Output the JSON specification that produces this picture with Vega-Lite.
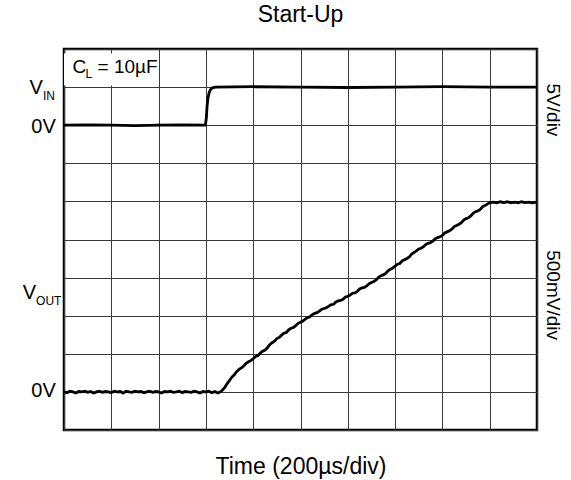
{
  "$schema": "https://vega.github.io/schema/vega-lite/v6.json",
  "width": 473,
  "height": 381,
  "autosize": {"type": "none"},
  "padding": {"left": 64, "top": 49, "right": 34, "bottom": 50},
  "background": "white",
  "title": {"text": "Start-Up", "font": "Liberation Sans", "fontSize": 23, "fontWeight": "normal", "color": "black", "anchor": "middle", "offset": 22},
  "config": {
    "view": {"stroke": "black", "strokeWidth": 2.5},
    "text": {"font": "Liberation Sans", "color": "black"}
  },
  "datasets": {
    "box": [{"t": 0, "t2": 370, "v": 9.04, "v2": 9.88}],
    "traces": [
      {"s": "VIN", "t": 0, "v": 8.0}, {"s": "VIN", "t": 100, "v": 8.01}, {"s": "VIN", "t": 200, "v": 8.0}, {"s": "VIN", "t": 300, "v": 7.99}, {"s": "VIN", "t": 400, "v": 8.0}, {"s": "VIN", "t": 500, "v": 8.01}, {"s": "VIN", "t": 598, "v": 8.0},
      {"s": "VIN", "t": 602, "v": 8.2}, {"s": "VIN", "t": 605, "v": 8.5}, {"s": "VIN", "t": 609, "v": 8.72}, {"s": "VIN", "t": 614, "v": 8.86}, {"s": "VIN", "t": 620, "v": 8.94}, {"s": "VIN", "t": 628, "v": 8.98}, {"s": "VIN", "t": 640, "v": 9.0},
      {"s": "VIN", "t": 800, "v": 9.01}, {"s": "VIN", "t": 1000, "v": 9.0}, {"s": "VIN", "t": 1200, "v": 8.99}, {"s": "VIN", "t": 1400, "v": 9.0}, {"s": "VIN", "t": 1600, "v": 9.01}, {"s": "VIN", "t": 1800, "v": 9.0}, {"s": "VIN", "t": 2000, "v": 9.0},

      {"s": "VOUT", "t": 0, "v": 1.0}, {"s": "VOUT", "t": 12, "v": 0.98}, {"s": "VOUT", "t": 25, "v": 1.02}, {"s": "VOUT", "t": 38, "v": 1.0}, {"s": "VOUT", "t": 50, "v": 0.97}, {"s": "VOUT", "t": 62, "v": 1.01}, {"s": "VOUT", "t": 75, "v": 1.0}, {"s": "VOUT", "t": 88, "v": 1.02}, {"s": "VOUT", "t": 100, "v": 0.99}, {"s": "VOUT", "t": 112, "v": 1.01}, {"s": "VOUT", "t": 125, "v": 0.97}, {"s": "VOUT", "t": 138, "v": 1.0}, {"s": "VOUT", "t": 150, "v": 1.02}, {"s": "VOUT", "t": 162, "v": 0.99}, {"s": "VOUT", "t": 175, "v": 1.01}, {"s": "VOUT", "t": 188, "v": 1.0}, {"s": "VOUT", "t": 200, "v": 0.98}, {"s": "VOUT", "t": 212, "v": 1.02}, {"s": "VOUT", "t": 225, "v": 1.0}, {"s": "VOUT", "t": 238, "v": 1.01}, {"s": "VOUT", "t": 250, "v": 0.97}, {"s": "VOUT", "t": 262, "v": 1.02}, {"s": "VOUT", "t": 275, "v": 1.0}, {"s": "VOUT", "t": 288, "v": 0.99}, {"s": "VOUT", "t": 300, "v": 1.02}, {"s": "VOUT", "t": 312, "v": 1.0}, {"s": "VOUT", "t": 325, "v": 1.01}, {"s": "VOUT", "t": 338, "v": 0.98}, {"s": "VOUT", "t": 350, "v": 1.0}, {"s": "VOUT", "t": 362, "v": 1.02}, {"s": "VOUT", "t": 375, "v": 0.99}, {"s": "VOUT", "t": 388, "v": 1.01}, {"s": "VOUT", "t": 400, "v": 1.0}, {"s": "VOUT", "t": 412, "v": 0.97}, {"s": "VOUT", "t": 425, "v": 1.01}, {"s": "VOUT", "t": 438, "v": 1.0}, {"s": "VOUT", "t": 450, "v": 1.02}, {"s": "VOUT", "t": 462, "v": 0.99}, {"s": "VOUT", "t": 475, "v": 1.0}, {"s": "VOUT", "t": 488, "v": 1.02}, {"s": "VOUT", "t": 500, "v": 0.98}, {"s": "VOUT", "t": 512, "v": 1.01}, {"s": "VOUT", "t": 525, "v": 1.0}, {"s": "VOUT", "t": 538, "v": 0.99}, {"s": "VOUT", "t": 550, "v": 1.02}, {"s": "VOUT", "t": 562, "v": 1.0}, {"s": "VOUT", "t": 575, "v": 0.97}, {"s": "VOUT", "t": 588, "v": 1.01}, {"s": "VOUT", "t": 600, "v": 1.0}, {"s": "VOUT", "t": 612, "v": 1.02}, {"s": "VOUT", "t": 625, "v": 0.98}, {"s": "VOUT", "t": 638, "v": 1.01}, {"s": "VOUT", "t": 650, "v": 0.97}, {"s": "VOUT", "t": 662, "v": 1.0},
      {"s": "VOUT", "t": 670, "v": 1.05}, {"s": "VOUT", "t": 680, "v": 1.12}, {"s": "VOUT", "t": 690, "v": 1.22}, {"s": "VOUT", "t": 700, "v": 1.3}, {"s": "VOUT", "t": 710, "v": 1.39}, {"s": "VOUT", "t": 720, "v": 1.45}, {"s": "VOUT", "t": 730, "v": 1.53}, {"s": "VOUT", "t": 740, "v": 1.59}, {"s": "VOUT", "t": 750, "v": 1.63}, {"s": "VOUT", "t": 760, "v": 1.68}, {"s": "VOUT", "t": 770, "v": 1.75}, {"s": "VOUT", "t": 780, "v": 1.79}, {"s": "VOUT", "t": 790, "v": 1.82}, {"s": "VOUT", "t": 800, "v": 1.87}, {"s": "VOUT", "t": 810, "v": 1.93}, {"s": "VOUT", "t": 820, "v": 1.95}, {"s": "VOUT", "t": 830, "v": 2.02}, {"s": "VOUT", "t": 840, "v": 2.07}, {"s": "VOUT", "t": 850, "v": 2.1}, {"s": "VOUT", "t": 860, "v": 2.16}, {"s": "VOUT", "t": 870, "v": 2.24}, {"s": "VOUT", "t": 880, "v": 2.29}, {"s": "VOUT", "t": 890, "v": 2.33}, {"s": "VOUT", "t": 900, "v": 2.4}, {"s": "VOUT", "t": 910, "v": 2.43}, {"s": "VOUT", "t": 920, "v": 2.49}, {"s": "VOUT", "t": 930, "v": 2.54}, {"s": "VOUT", "t": 940, "v": 2.56}, {"s": "VOUT", "t": 950, "v": 2.63}, {"s": "VOUT", "t": 960, "v": 2.67}, {"s": "VOUT", "t": 970, "v": 2.69}, {"s": "VOUT", "t": 980, "v": 2.74}, {"s": "VOUT", "t": 990, "v": 2.8}, {"s": "VOUT", "t": 1000, "v": 2.83}, {"s": "VOUT", "t": 1010, "v": 2.86}, {"s": "VOUT", "t": 1020, "v": 2.91}, {"s": "VOUT", "t": 1030, "v": 2.95}, {"s": "VOUT", "t": 1040, "v": 2.97}, {"s": "VOUT", "t": 1050, "v": 3.03}, {"s": "VOUT", "t": 1060, "v": 3.06}, {"s": "VOUT", "t": 1070, "v": 3.08}, {"s": "VOUT", "t": 1080, "v": 3.12}, {"s": "VOUT", "t": 1090, "v": 3.17}, {"s": "VOUT", "t": 1100, "v": 3.19}, {"s": "VOUT", "t": 1110, "v": 3.21}, {"s": "VOUT", "t": 1120, "v": 3.25}, {"s": "VOUT", "t": 1130, "v": 3.29}, {"s": "VOUT", "t": 1140, "v": 3.3}, {"s": "VOUT", "t": 1150, "v": 3.36}, {"s": "VOUT", "t": 1160, "v": 3.39}, {"s": "VOUT", "t": 1170, "v": 3.4}, {"s": "VOUT", "t": 1180, "v": 3.43}, {"s": "VOUT", "t": 1190, "v": 3.49}, {"s": "VOUT", "t": 1200, "v": 3.51}, {"s": "VOUT", "t": 1210, "v": 3.54}, {"s": "VOUT", "t": 1220, "v": 3.59}, {"s": "VOUT", "t": 1230, "v": 3.6}, {"s": "VOUT", "t": 1240, "v": 3.64}, {"s": "VOUT", "t": 1250, "v": 3.7}, {"s": "VOUT", "t": 1260, "v": 3.73}, {"s": "VOUT", "t": 1270, "v": 3.74}, {"s": "VOUT", "t": 1280, "v": 3.78}, {"s": "VOUT", "t": 1290, "v": 3.84}, {"s": "VOUT", "t": 1300, "v": 3.87}, {"s": "VOUT", "t": 1310, "v": 3.9}, {"s": "VOUT", "t": 1320, "v": 3.94}, {"s": "VOUT", "t": 1330, "v": 4.01}, {"s": "VOUT", "t": 1340, "v": 4.05}, {"s": "VOUT", "t": 1350, "v": 4.07}, {"s": "VOUT", "t": 1360, "v": 4.11}, {"s": "VOUT", "t": 1370, "v": 4.18}, {"s": "VOUT", "t": 1380, "v": 4.22}, {"s": "VOUT", "t": 1390, "v": 4.25}, {"s": "VOUT", "t": 1400, "v": 4.3}, {"s": "VOUT", "t": 1410, "v": 4.35}, {"s": "VOUT", "t": 1420, "v": 4.37}, {"s": "VOUT", "t": 1430, "v": 4.44}, {"s": "VOUT", "t": 1440, "v": 4.47}, {"s": "VOUT", "t": 1450, "v": 4.5}, {"s": "VOUT", "t": 1460, "v": 4.54}, {"s": "VOUT", "t": 1470, "v": 4.62}, {"s": "VOUT", "t": 1480, "v": 4.66}, {"s": "VOUT", "t": 1490, "v": 4.7}, {"s": "VOUT", "t": 1500, "v": 4.75}, {"s": "VOUT", "t": 1510, "v": 4.77}, {"s": "VOUT", "t": 1520, "v": 4.81}, {"s": "VOUT", "t": 1530, "v": 4.87}, {"s": "VOUT", "t": 1540, "v": 4.9}, {"s": "VOUT", "t": 1550, "v": 4.92}, {"s": "VOUT", "t": 1560, "v": 4.96}, {"s": "VOUT", "t": 1570, "v": 5.02}, {"s": "VOUT", "t": 1580, "v": 5.05}, {"s": "VOUT", "t": 1590, "v": 5.07}, {"s": "VOUT", "t": 1600, "v": 5.11}, {"s": "VOUT", "t": 1610, "v": 5.17}, {"s": "VOUT", "t": 1620, "v": 5.2}, {"s": "VOUT", "t": 1630, "v": 5.23}, {"s": "VOUT", "t": 1640, "v": 5.27}, {"s": "VOUT", "t": 1650, "v": 5.34}, {"s": "VOUT", "t": 1660, "v": 5.37}, {"s": "VOUT", "t": 1670, "v": 5.4}, {"s": "VOUT", "t": 1680, "v": 5.44}, {"s": "VOUT", "t": 1690, "v": 5.51}, {"s": "VOUT", "t": 1700, "v": 5.55}, {"s": "VOUT", "t": 1710, "v": 5.57}, {"s": "VOUT", "t": 1720, "v": 5.62}, {"s": "VOUT", "t": 1730, "v": 5.69}, {"s": "VOUT", "t": 1740, "v": 5.73}, {"s": "VOUT", "t": 1750, "v": 5.75}, {"s": "VOUT", "t": 1760, "v": 5.79}, {"s": "VOUT", "t": 1770, "v": 5.86}, {"s": "VOUT", "t": 1780, "v": 5.89}, {"s": "VOUT", "t": 1790, "v": 5.93}, {"s": "VOUT", "t": 1800, "v": 5.97},
      {"s": "VOUT", "t": 1815, "v": 5.98}, {"s": "VOUT", "t": 1830, "v": 5.96}, {"s": "VOUT", "t": 1845, "v": 5.99}, {"s": "VOUT", "t": 1860, "v": 5.97}, {"s": "VOUT", "t": 1875, "v": 5.99}, {"s": "VOUT", "t": 1890, "v": 5.96}, {"s": "VOUT", "t": 1905, "v": 5.98}, {"s": "VOUT", "t": 1920, "v": 5.96}, {"s": "VOUT", "t": 1935, "v": 5.99}, {"s": "VOUT", "t": 1950, "v": 5.97}, {"s": "VOUT", "t": 1965, "v": 5.98}, {"s": "VOUT", "t": 1980, "v": 5.96}, {"s": "VOUT", "t": 2000, "v": 5.98}
    ],
    "mainLabels": [
      {"txt": "V", "t": -89, "v": 8.82},
      {"txt": "V", "t": -118, "v": 3.44},
      {"txt": "0V", "t": -35, "v": 7.8},
      {"txt": "0V", "t": -35, "v": 0.87}
    ],
    "subLabels": [
      {"txt": "IN", "t": -89, "v": 8.82},
      {"txt": "OUT", "t": -118, "v": 3.44}
    ],
    "sideLabels": [
      {"txt": "5V/div", "t": 2068, "v": 8.4},
      {"txt": "500mV/div", "t": 2068, "v": 3.54}
    ],
    "clMain": [{"txt": "C", "t": 36, "v": 9.36}],
    "clSub": [{"txt": "L", "t": 36, "v": 9.36}],
    "clRest": [{"txt": "= 10µF", "t": 36, "v": 9.36}]
  },
  "encoding": {
    "x": {"field": "t", "type": "quantitative", "scale": {"domain": [0, 2000], "nice": false, "zero": false},
      "axis": {"values": [0, 200, 400, 600, 800, 1000, 1200, 1400, 1600, 1800, 2000], "grid": true, "gridColor": "#3a3a3a", "gridWidth": 1, "labels": false, "ticks": false, "domain": false,
        "title": "Time (200µs/div)", "titleFont": "Liberation Sans", "titleFontSize": 23, "titleFontWeight": "normal", "titleColor": "black", "titlePadding": 25}},
    "y": {"field": "v", "type": "quantitative", "scale": {"domain": [0, 10], "nice": false, "zero": false},
      "axis": {"values": [0, 1, 2, 3, 4, 5, 6, 7, 8, 9, 10], "grid": true, "gridColor": "#3a3a3a", "gridWidth": 1, "labels": false, "ticks": false, "domain": false, "title": null}}
  },
  "layer": [
    {
      "data": {"name": "box"},
      "mark": {"type": "rect", "fill": "white"},
      "encoding": {"x2": {"field": "t2"}, "y2": {"field": "v2"}}
    },
    {
      "data": {"name": "traces"},
      "mark": {"type": "line", "color": "black", "strokeWidth": 2.8, "clip": true},
      "encoding": {"detail": {"field": "s"}}
    },
    {
      "data": {"name": "mainLabels"},
      "mark": {"type": "text", "fontSize": 20, "align": "right", "baseline": "alphabetic"},
      "encoding": {"text": {"field": "txt"}}
    },
    {
      "data": {"name": "subLabels"},
      "mark": {"type": "text", "fontSize": 12, "align": "left", "baseline": "alphabetic", "dy": 6},
      "encoding": {"text": {"field": "txt"}}
    },
    {
      "data": {"name": "sideLabels"},
      "mark": {"type": "text", "fontSize": 19, "align": "center", "baseline": "middle", "angle": 90},
      "encoding": {"text": {"field": "txt"}}
    },
    {
      "data": {"name": "clMain"},
      "mark": {"type": "text", "fontSize": 19, "align": "left", "baseline": "alphabetic"},
      "encoding": {"text": {"field": "txt"}}
    },
    {
      "data": {"name": "clSub"},
      "mark": {"type": "text", "fontSize": 12, "align": "left", "baseline": "alphabetic", "dx": 13, "dy": 5},
      "encoding": {"text": {"field": "txt"}}
    },
    {
      "data": {"name": "clRest"},
      "mark": {"type": "text", "fontSize": 19, "align": "left", "baseline": "alphabetic", "dx": 25},
      "encoding": {"text": {"field": "txt"}}
    }
  ]
}
